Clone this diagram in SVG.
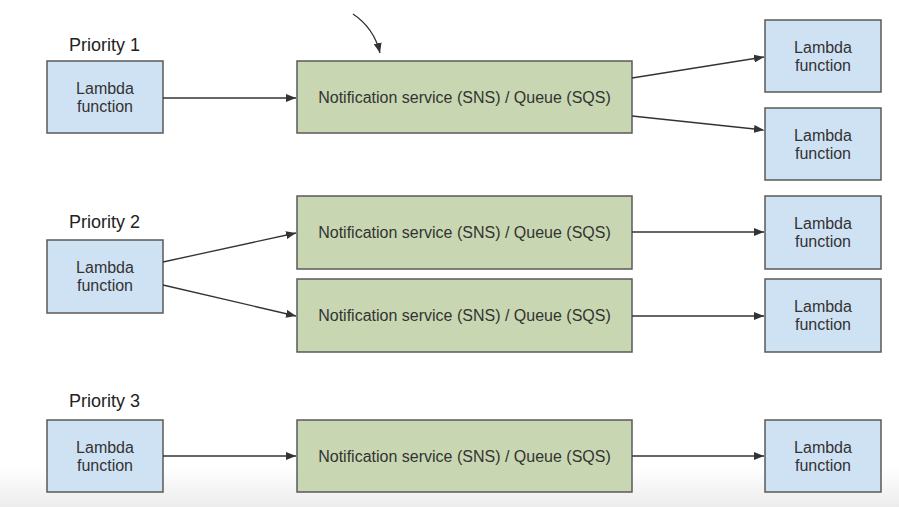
<svg xmlns="http://www.w3.org/2000/svg" width="899" height="507" viewBox="0 0 899 507">
<defs>
<linearGradient id="bg" x1="0" y1="0" x2="0" y2="1">
<stop offset="0" stop-color="#ffffff"/>
<stop offset="1" stop-color="#ececec"/>
</linearGradient>
<marker id="ah" viewBox="0 0 10 8" refX="10" refY="4" markerWidth="10" markerHeight="8" markerUnits="userSpaceOnUse" orient="auto">
<path d="M0,0 L10,4 L0,8 Z" fill="#333333"/>
</marker>
<style>
.lam{fill:#cfe2f3;stroke:#595959;stroke-width:1.5}
.sns{fill:#c8d7b1;stroke:#595959;stroke-width:1.5}
.t{font-family:"Liberation Sans",Arial,sans-serif;font-size:16px;fill:#333333;text-anchor:middle}
.p{font-family:"Liberation Sans",Arial,sans-serif;font-size:18px;fill:#222222}
.c{fill:none;stroke:#333333;stroke-width:1.3;marker-end:url(#ah)}
</style>
</defs>
<rect width="899" height="507" fill="#ffffff"/>
<rect x="0" y="468" width="899" height="39" fill="url(#bg)"/>

<g id="labels">
<text class="p" x="69" y="51">Priority 1</text>
<text class="p" x="69" y="228">Priority 2</text>
<text class="p" x="69" y="407">Priority 3</text>
</g>

<g id="l1"><rect class="lam" x="47" y="61" width="116" height="72"/><text class="t" x="105" y="94">Lambda</text><text class="t" x="105" y="112">function</text></g>
<g id="s1"><rect class="sns" x="297" y="61" width="335" height="72"/><text class="t" x="464.5" y="103">Notification service (SNS) / Queue (SQS)</text></g>
<g id="r1a"><rect class="lam" x="765" y="20" width="116" height="72"/><text class="t" x="823" y="53">Lambda</text><text class="t" x="823" y="71">function</text></g>
<g id="r1b"><rect class="lam" x="765" y="108" width="116" height="72"/><text class="t" x="823" y="141">Lambda</text><text class="t" x="823" y="159">function</text></g>

<g id="l2"><rect class="lam" x="47" y="240" width="116" height="73"/><text class="t" x="105" y="273">Lambda</text><text class="t" x="105" y="291">function</text></g>
<g id="s2a"><rect class="sns" x="297" y="196" width="335" height="73"/><text class="t" x="464.5" y="238">Notification service (SNS) / Queue (SQS)</text></g>
<g id="s2b"><rect class="sns" x="297" y="279" width="335" height="73"/><text class="t" x="464.5" y="321">Notification service (SNS) / Queue (SQS)</text></g>
<g id="r2a"><rect class="lam" x="765" y="196" width="116" height="73"/><text class="t" x="823" y="229">Lambda</text><text class="t" x="823" y="247">function</text></g>
<g id="r2b"><rect class="lam" x="765" y="279" width="116" height="73"/><text class="t" x="823" y="312">Lambda</text><text class="t" x="823" y="330">function</text></g>

<g id="l3"><rect class="lam" x="47" y="420" width="116" height="72"/><text class="t" x="105" y="453">Lambda</text><text class="t" x="105" y="471">function</text></g>
<g id="s3"><rect class="sns" x="297" y="420" width="335" height="72"/><text class="t" x="464.5" y="462">Notification service (SNS) / Queue (SQS)</text></g>
<g id="r3"><rect class="lam" x="765" y="420" width="116" height="72"/><text class="t" x="823" y="453">Lambda</text><text class="t" x="823" y="471">function</text></g>

<g id="connectors">
<path class="c" d="M353,14 Q374,28 380,53"/>
<path class="c" d="M163,98 L296,98"/>
<path class="c" d="M632,78 L764,57"/>
<path class="c" d="M632,116 L764,130"/>
<path class="c" d="M163,262 L296,233"/>
<path class="c" d="M163,285 L296,316"/>
<path class="c" d="M632,232 L764,232"/>
<path class="c" d="M632,316 L764,316"/>
<path class="c" d="M163,456 L296,456"/>
<path class="c" d="M632,456 L764,456"/>
</g>
</svg>
